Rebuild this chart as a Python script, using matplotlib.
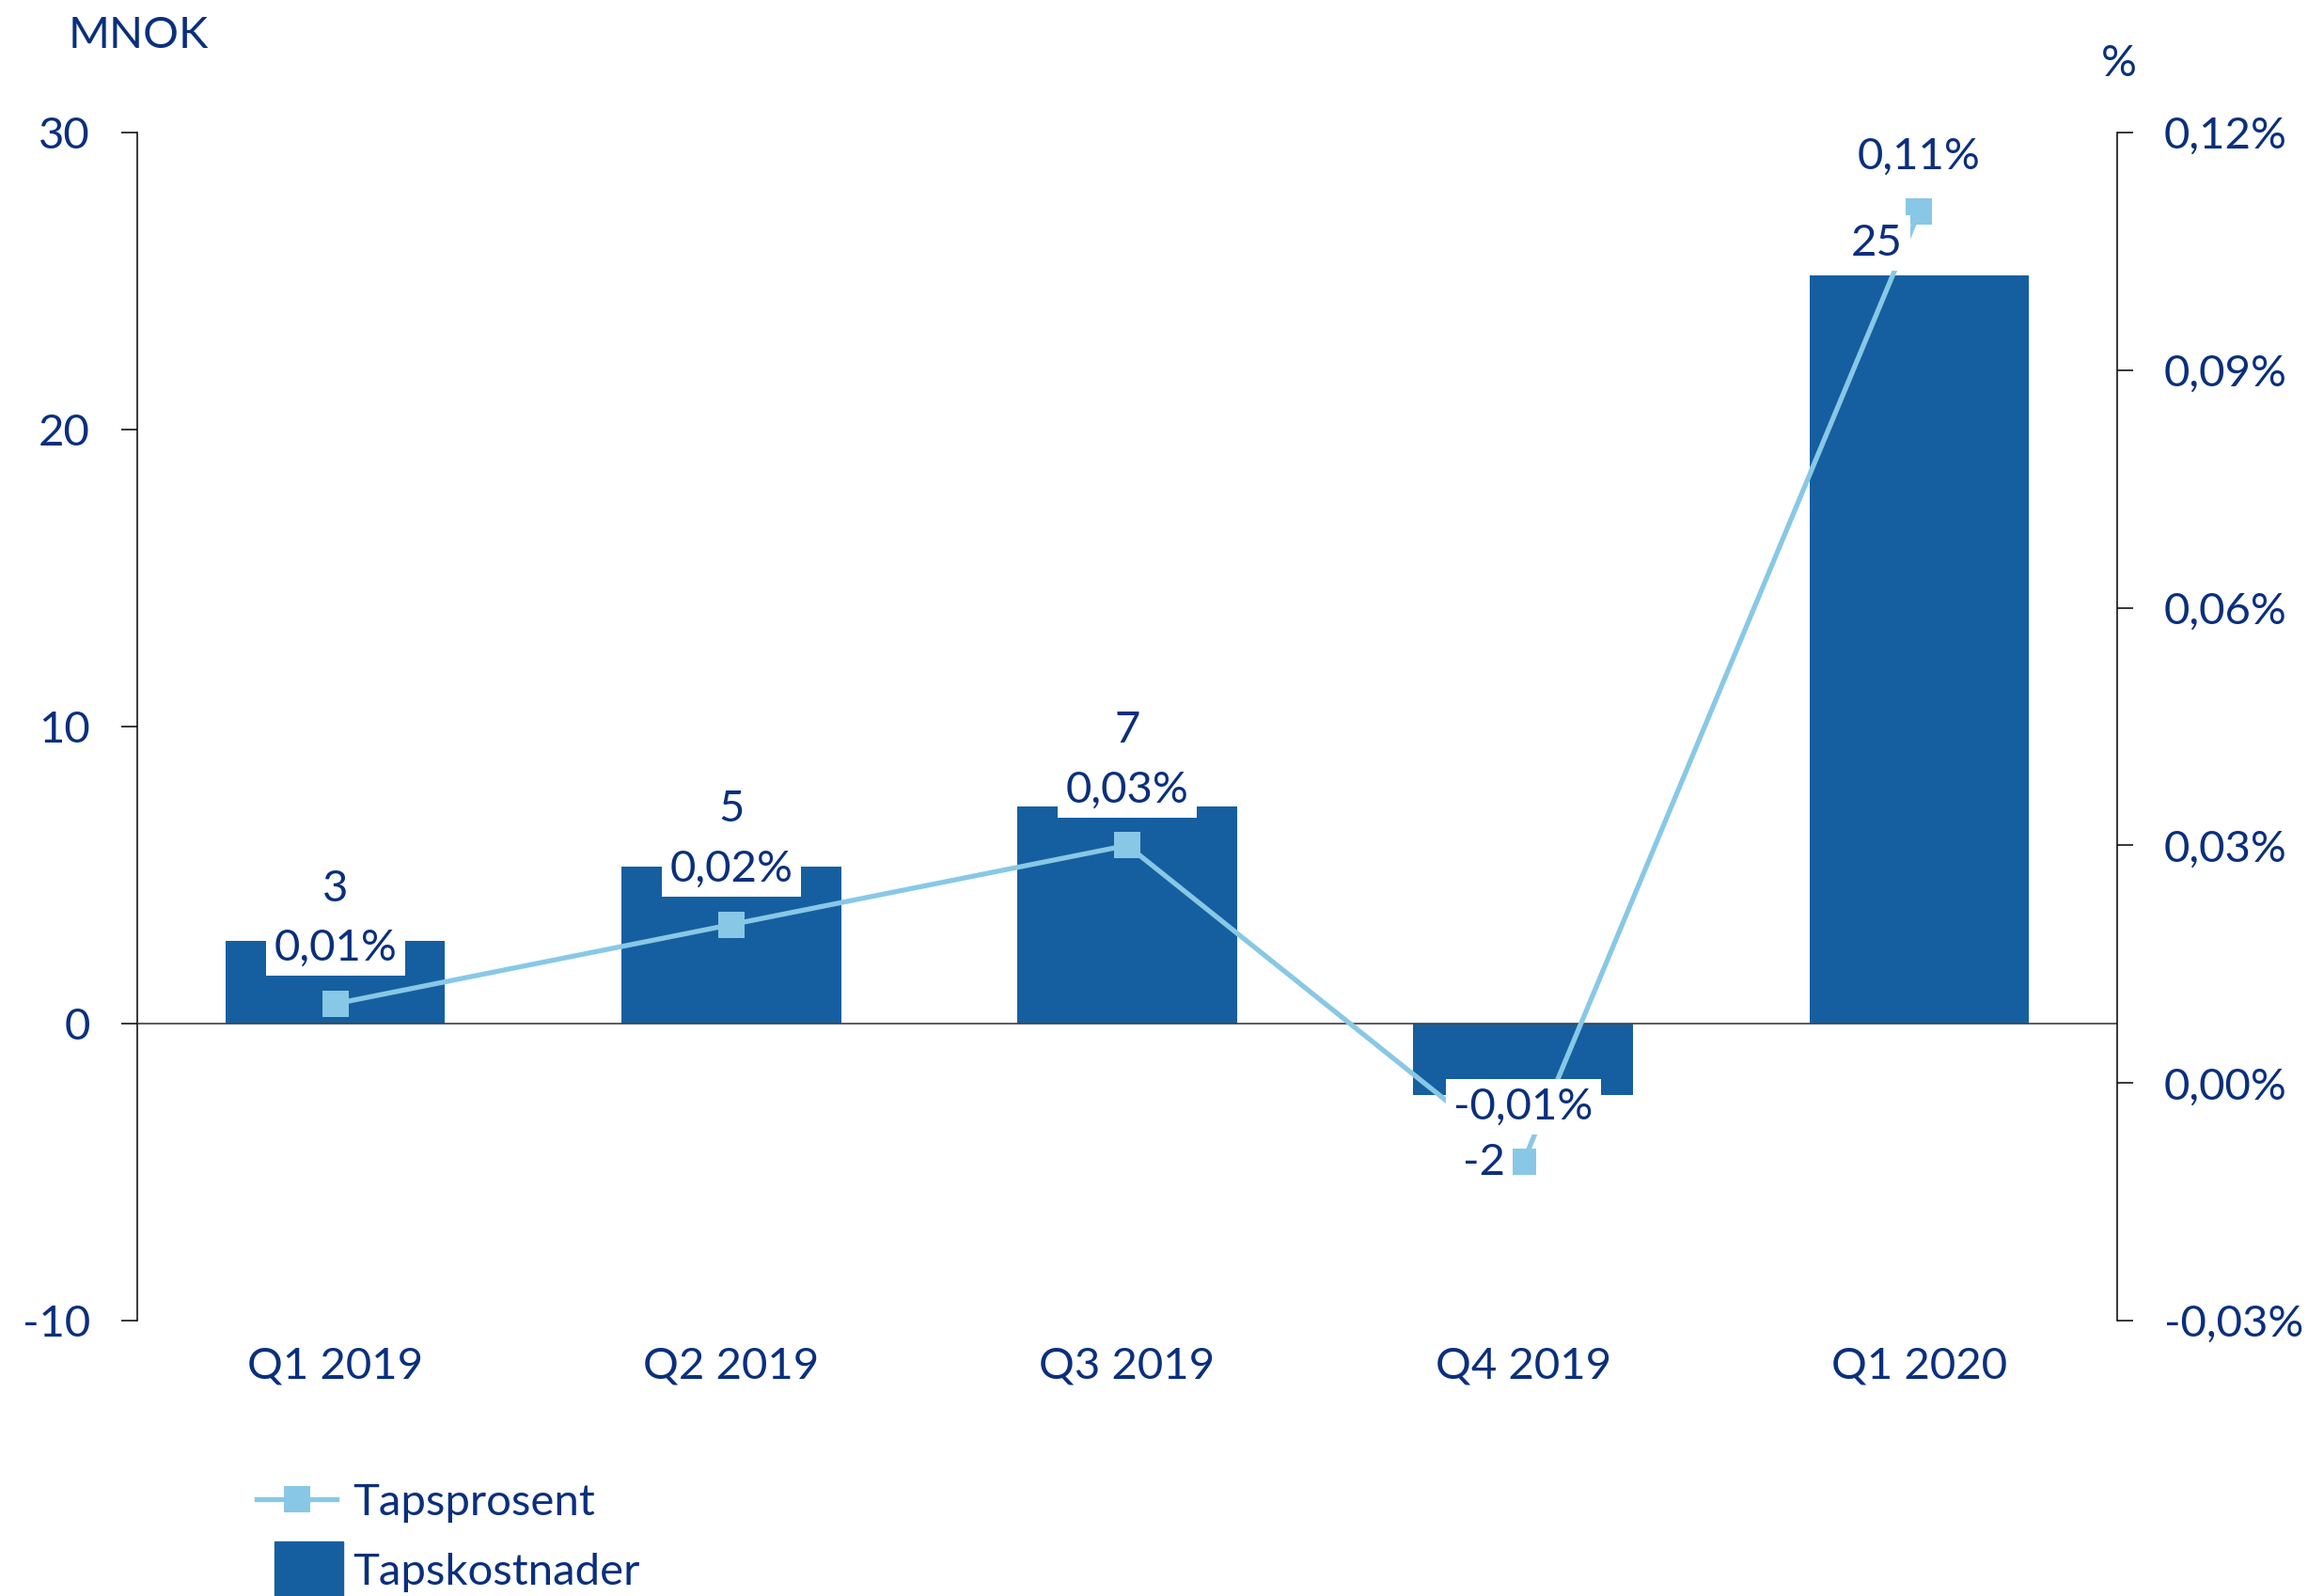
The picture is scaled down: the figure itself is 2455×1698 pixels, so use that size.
import numpy as np
import matplotlib
matplotlib.use("Agg")
import matplotlib.pyplot as plt
import matplotlib.patches as mpatches
from matplotlib.lines import Line2D
from matplotlib.legend_handler import HandlerPatch

# data
quarters = ["Q1 2019", "Q2 2019", "Q3 2019", "Q4 2019", "Q1 2020"]
tapskostnader = [2.8, 5.3, 7.3, -2.4, 25.2]      # MNOK
tapskost_labels = ["3", "5", "7", "-2", "25"]
tapsprosent = [0.01, 0.02, 0.03, -0.01, 0.11]    # %

# label offsets in pixels (value label relative to bar end)
val_off = [(0, 55), (0, 61), (0, 81), (-42, -72), (-45, 34)]
pct_off = (0, 59)

navy = "#0A2F7D"
bar_col = "#155FA0"
line_col = "#88C8E6"

plt.rcParams["font.family"] = ["Lato", "DejaVu Sans"]
plt.rcParams["axes.unicode_minus"] = False
fs = 34

fig = plt.figure(figsize=(24.55, 16.98), dpi=100)
ax = fig.add_axes([146 / 2455, 1 - 1405 / 1698, 2106 / 2455, 1264 / 1698])
ax2 = ax.twinx()

x = np.arange(len(quarters))
ax.bar(x, tapskostnader, width=0.555, color=bar_col, zorder=2)
ax.axhline(0, color="#404040", lw=1.2, zorder=3)
ax.set_xlim(-0.5, 4.5)
ax.set_ylim(-10, 30)
ax.set_yticks([-10, 0, 10, 20, 30])
ax.set_xticks(x)
ax.set_xticklabels(quarters)
ax.tick_params(axis="y", direction="out", length=12, width=1.1, pad=24,
               labelsize=fs, labelcolor=navy, color="black")
ax.tick_params(axis="x", length=0, pad=20, labelsize=fs, labelcolor=navy)
for s in ["top", "bottom", "right"]:
    ax.spines[s].set_visible(False)
ax.spines["left"].set_linewidth(1.1)

ax2.plot(x, tapsprosent, color=line_col, lw=3.8, marker="s", markersize=20,
         markeredgewidth=0, zorder=3)
ax2.set_ylim(-0.03, 0.12)
ax2.set_yticks([-0.03, 0.0, 0.03, 0.06, 0.09, 0.12])
ax2.set_yticklabels([f"{v:.2f}%".replace(".", ",") for v in ax2.get_yticks()])
ax2.tick_params(axis="y", direction="out", length=12, width=1.1, pad=24,
                labelsize=fs, labelcolor=navy, color="black")
for s in ["top", "bottom", "left"]:
    ax2.spines[s].set_visible(False)
ax2.spines["right"].set_linewidth(1.1)

box = dict(boxstyle="square,pad=0.18", fc="white", ec="none")
for i in range(len(quarters)):
    ax2.annotate(tapskost_labels[i], xy=(x[i], tapskostnader[i]), xycoords=ax.transData,
                 xytext=val_off[i], textcoords="offset pixels", ha="center", va="center",
                 fontsize=fs, color=navy, bbox=box, zorder=6)
    ax2.annotate(f"{tapsprosent[i]:.2f}%".replace(".", ","), xy=(x[i], tapsprosent[i]),
                 xytext=pct_off, textcoords="offset pixels", ha="center", va="center",
                 fontsize=fs, color=navy, bbox=box, zorder=6)

fig.text(147 / 2455, 1 - 38 / 1698, "MNOK", ha="center", va="center", fontsize=fs, color=navy)
fig.text(2254 / 2455, 1 - 68 / 1698, "%", ha="center", va="center", fontsize=fs, color=navy)


def square_patch(legend, orig_handle, xdescent, ydescent, width, height, fontsize):
    return mpatches.Rectangle((-xdescent + 14, -ydescent + height / 2 - 21), 52, 42)


h_line = Line2D([], [], color=line_col, lw=3.8, marker="s", markersize=20, markeredgewidth=0)
h_bar = mpatches.Patch(color=bar_col)
fig.legend([h_line, h_bar], ["Tapsprosent", "Tapskostnader"],
           loc="upper left", bbox_to_anchor=(273 / 2455, 1 - 1578 / 1698),
           frameon=False, fontsize=fs, labelcolor=navy, borderpad=0, borderaxespad=0,
           handlelength=1.8, handletextpad=0.37, labelspacing=0.68, numpoints=1,
           handler_map={mpatches.Patch: HandlerPatch(patch_func=square_patch)})

fig.savefig("out.png", dpi=100)
